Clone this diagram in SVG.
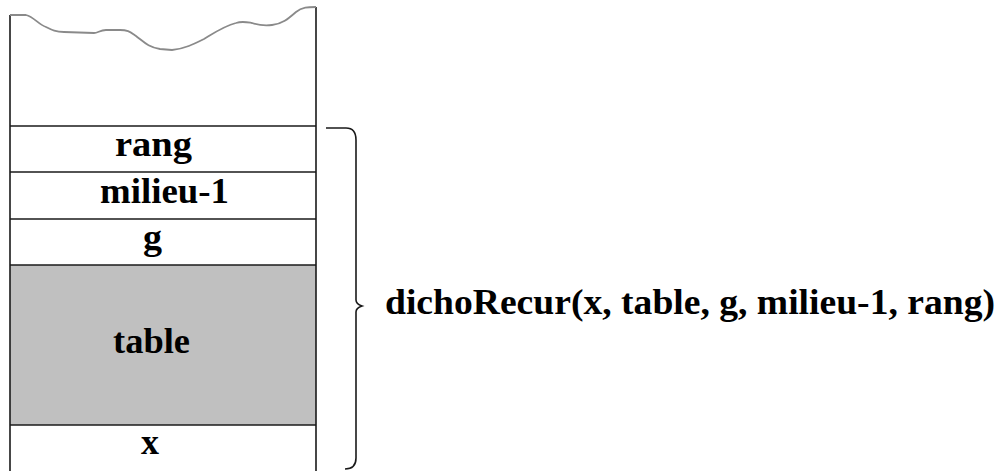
<svg xmlns="http://www.w3.org/2000/svg" width="1004" height="471" viewBox="0 0 1004 471">
<style>
.ln{stroke:#1a1a1a;stroke-width:1.6;fill:none}
.t{font-family:"Liberation Serif","Times New Roman",serif;font-weight:bold;font-size:35px;fill:#000}
</style>
<rect x="0" y="0" width="1004" height="471" fill="#fff"/>
<g id="stack">
<rect x="10" y="265" width="306" height="160" fill="#c0c0c0"/>
<path class="ln" d="M10,15 V471 M316,7 V471"/>
<path d="M10,15 L26,15 C34,17 38,24 46,27 C52,30 56,32 64,32 L94,33 C98,33 100,30 106,30 L120,30 C128,30 130,32 136,36 C144,42 148,47 160,49 L172,50 C184,49 194,44 204,39 C214,33 224,26 236,23 C242,21 246,22 252,23 C258,25 264,26 272,25 C282,24 288,19 296,12 C302,7 308,7 316,7" fill="none" stroke="#8a8a8a" stroke-width="1.8" stroke-linejoin="round"/>
</g>
<g id="cell-rang"><path class="ln" d="M10,126 H316"/><text class="t" x="115" y="156" textLength="77" lengthAdjust="spacingAndGlyphs">rang</text></g>
<g id="cell-milieu"><path class="ln" d="M10,172 H316"/><text class="t" x="100" y="203" textLength="129" lengthAdjust="spacingAndGlyphs">milieu-1</text></g>
<g id="cell-g"><path class="ln" d="M10,219 H316"/><text class="t" x="143" y="249" textLength="19" lengthAdjust="spacingAndGlyphs">g</text></g>
<g id="cell-table"><path class="ln" d="M10,265 H316"/><text class="t" x="113" y="353" textLength="77" lengthAdjust="spacingAndGlyphs">table</text></g>
<g id="cell-x"><path class="ln" d="M10,425 H316"/><text class="t" x="141" y="454" textLength="18" lengthAdjust="spacingAndGlyphs">x</text></g>
<g id="connectors">
<path class="ln" d="M326,128 H346 Q356,128 356,140 V300 Q356,304 362,306 Q356,308 356,312 V458 Q356,469 345,469"/>
</g>
<g id="call-label"><text class="t" x="385" y="314" textLength="610" lengthAdjust="spacingAndGlyphs">dichoRecur(x, table, g, milieu-1, rang)</text></g>
</svg>
